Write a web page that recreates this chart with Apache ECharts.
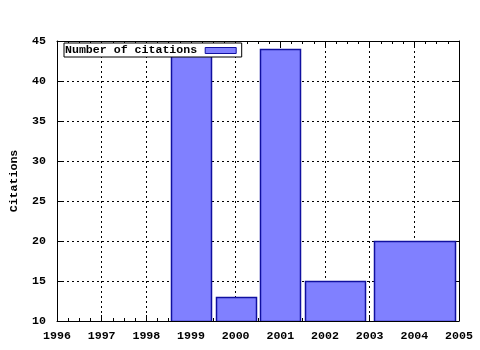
<!DOCTYPE html>
<html>
<head>
<meta charset="utf-8">
<script src="https://cdn.jsdelivr.net/npm/echarts@6/dist/echarts.min.js"></script>
<style>html,body{margin:0;padding:0;background:#fff}#c{width:480px;height:350px}</style>
</head>
<body>
<div id="c"></div>
<script>
const years = [1999, 2000, 2001, 2002, 2004];
const citations = [44, 13, 44, 15, 20];
const seriesName = 'Number of citations';
const yTicks = [10, 15, 20, 25, 30, 35, 40, 45];
const xTicks = [1996, 1997, 1998, 1999, 2000, 2001, 2002, 2003, 2004, 2005];

const FONT = '"Liberation Mono","DejaVu Sans Mono",monospace';
const FS = 11.6;
const fill = '#8080ff';
const edge = '#1010a0';

// gnuplot-style box extents: 0.9 of half-distance to neighbours
const boxes = years.map((y, i) => {
  const n = years.length;
  const dl = i > 0 ? years[i] - years[i - 1] : years[1] - years[0];
  const dr = i < n - 1 ? years[i + 1] - years[i] : years[i] - years[i - 1];
  return [y - dl / 2 * 0.9, y + dr / 2 * 0.9, citations[i]];
});

const grid = {left: 57, right: 21, top: 41, bottom: 29};
const dotted = {show: true, lineStyle: {color: '#000', type: [2, 3], width: 1}};

const chart = echarts.init(document.getElementById('c'), null, {renderer: 'canvas'});
chart.setOption({
  animation: false,
  backgroundColor: '#fff',
  grid: grid,
  legend: {
    left: 64, top: 43,
    align: 'right',
    orient: 'horizontal',
    itemWidth: 31, itemHeight: 6,
    backgroundColor: '#fff',
    borderColor: '#000', borderWidth: 1, borderRadius: 0,
    padding: [1, 5, 0, 1],
    textStyle: {fontFamily: FONT, fontSize: FS, fontWeight: 'bold', color: '#000', lineHeight: 13, padding: [0, 3, 0, 0]},
    data: [{name: seriesName, icon: 'rect', itemStyle: {color: fill, borderColor: edge, borderWidth: 1}}]
  },
  xAxis: [{
    type: 'value', min: 1996, max: 2005, interval: 1,
    position: 'bottom',
    axisLine: {show: true, onZero: false, lineStyle: {color: '#000', width: 1}},
    axisTick: {show: true, inside: true, length: 6, lineStyle: {color: '#000'}},
    minorTick: {show: true, splitNumber: 4, length: 3, lineStyle: {color: '#000'}},
    splitLine: dotted,
    axisLabel: {fontFamily: FONT, fontSize: FS, fontWeight: 'bold', color: '#000', margin: 9,
      formatter: v => String(v)}
  }, {
    type: 'value', min: 1996, max: 2005, interval: 1,
    position: 'top',
    axisLine: {show: true, onZero: false, lineStyle: {color: '#000', width: 1}},
    axisTick: {show: true, inside: true, length: 6, lineStyle: {color: '#000'}},
    minorTick: {show: true, splitNumber: 4, length: 3, lineStyle: {color: '#000'}},
    splitLine: {show: false},
    axisLabel: {show: false}
  }],
  yAxis: [{
    type: 'value', min: 10, max: 45, interval: 5,
    position: 'left',
    name: 'Citations', nameLocation: 'middle', nameGap: 37,
    nameTextStyle: {fontFamily: FONT, fontSize: FS, fontWeight: 'bold', color: '#000'},
    axisLine: {show: true, onZero: false, lineStyle: {color: '#000', width: 1}},
    axisTick: {show: true, inside: true, length: 6, lineStyle: {color: '#000'}},
    splitLine: dotted,
    axisLabel: {fontFamily: FONT, fontSize: FS, fontWeight: 'bold', color: '#000', margin: 11}
  }, {
    type: 'value', min: 10, max: 45, interval: 5,
    position: 'right',
    axisLine: {show: true, onZero: false, lineStyle: {color: '#000', width: 1}},
    axisTick: {show: true, inside: true, length: 6, lineStyle: {color: '#000'}},
    splitLine: {show: false},
    axisLabel: {show: false}
  }],
  series: [{
    name: seriesName,
    type: 'custom',
    xAxisIndex: 0, yAxisIndex: 0,
    itemStyle: {color: fill, borderColor: edge, borderWidth: 1},
    clip: true,
    renderItem: function (params, api) {
      const p0 = api.coord([api.value(0), api.value(2)]);
      const p1 = api.coord([api.value(1), 10]);
      return {
        type: 'rect',
        shape: {x: Math.round(p0[0]) + 0.5, y: Math.round(p0[1]) + 0.5,
                width: Math.round(p1[0]) - Math.round(p0[0]), height: Math.round(p1[1]) - Math.round(p0[1])},
        style: {fill: fill, stroke: edge, lineWidth: 1.5}
      };
    },
    encode: {x: [0, 1], y: 2},
    data: boxes
  }]
});
</script>
</body>
</html>
